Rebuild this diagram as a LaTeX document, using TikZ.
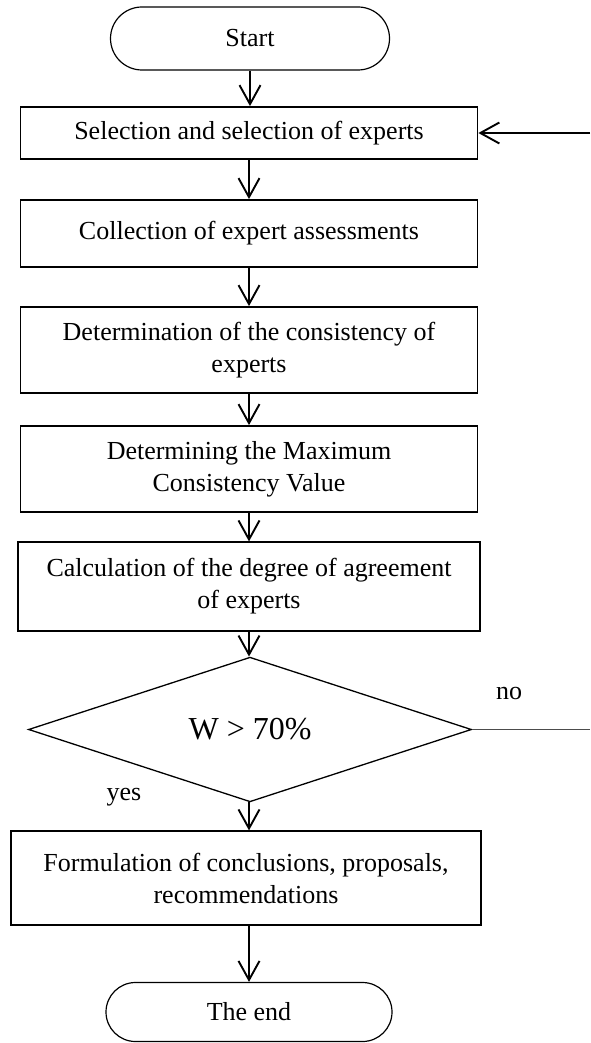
\documentclass[tikz,border=0pt]{standalone}
\usepackage{fontspec}
\setmainfont{Liberation Serif}
\usetikzlibrary{arrows.meta,shapes.geometric,shapes.misc}
\begin{document}
\begin{tikzpicture}[x=0.5pt,y=-0.5pt,
  txt/.style={font=\fontsize{13}{16}\selectfont},
  term/.style={txt,draw,rounded rectangle,line width=0.6pt,inner sep=0pt},
  thickbox/.style={txt,draw,rectangle,line width=0.9pt,align=center,inner sep=0pt,minimum width=228.5pt},
  thinbox/.style={txt,draw,rectangle,line width=0.6pt,align=center,inner sep=0pt},
  decision/.style={draw,diamond,line width=0.65pt,inner sep=0pt,font=\fontsize{16}{19}\selectfont},
  arr/.style={line width=0.95pt,-{Straight Barb[length=9.5pt,width=10.5pt,line width=0.95pt]}},
  lbl/.style={txt,inner sep=0pt}]
\useasboundingbox (0,0) rectangle (590,1043);
\node[term,minimum width=139.5pt,minimum height=31.5pt] (start) at (250,38.5) {Start};
\node[thickbox,minimum height=26pt] (b1) at (249,133) {Selection and selection of experts};
\node[thickbox,minimum height=33.5pt] (b2) at (249,233.5) {Collection of expert assessments};
\node[thickbox,minimum height=43pt] (b3) at (249,350) {Determination of the consistency of\\experts};
\node[thickbox,minimum height=43pt] (b4) at (249,469) {Determining the Maximum\\Consistency Value};
\node[thinbox,minimum width=231pt,minimum height=44.5pt] (b5) at (249,586.5) {Calculation of the degree of agreement\\of experts};
\node[decision,minimum width=221.5pt,minimum height=57.5pt] (dia) at (250,729.5) {W > 70\%};
\node[thinbox,minimum width=235pt,minimum height=47pt] (b6) at (246,878) {Formulation of conclusions, proposals,\\recommendations};
\node[term,minimum width=143pt,minimum height=29.5pt] (end) at (249,1012) {The end};
\node[lbl] (no) at (509,693) {no};
\node[lbl] (yes) at (124,797) {yes};
\coordinate (e1) at (590,729.5);
\coordinate (e2) at (590,133);
\draw[arr] (start.south) -- (start.south |- b1.north);
\draw[arr] (b1.south) -- (b2.north);
\draw[arr] (b2.south) -- (b3.north);
\draw[arr] (b3.south) -- (b4.north);
\draw[arr] (b4.south) -- (b5.north);
\draw[arr] (b5.south) -- (b5.south |- dia.north);
\draw[arr] (b5.south |- dia.south) -- (b5.south |- b6.north);
\draw[arr] (b5.south |- b6.south) -- (end.north);
\draw[line width=0.8pt,black!70] (dia.east) -- (e1);
\draw[arr] (e2) -- (b1.east);
\end{tikzpicture}
\end{document}
